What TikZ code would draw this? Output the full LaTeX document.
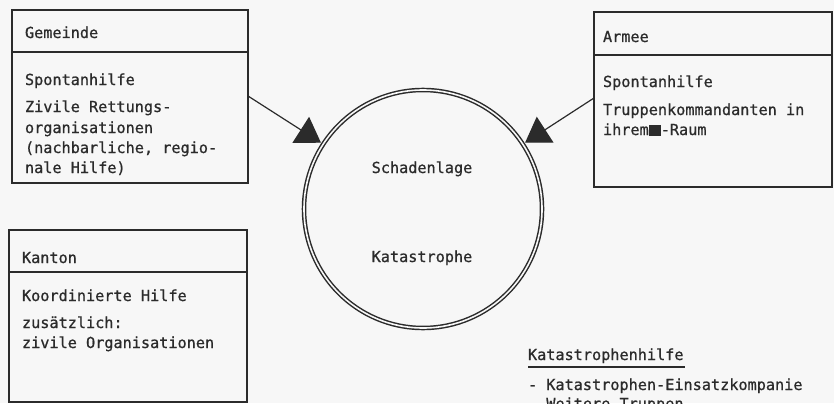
\documentclass[tikz,border=0pt]{standalone}
\usepackage{fontspec}
\setmonofont[FakeBold=0.8]{DejaVu Sans Mono}
\usetikzlibrary{arrows.meta,calc}
\definecolor{ink}{HTML}{2B2B2B}
\definecolor{paper}{HTML}{F7F7F7}
\begin{document}
\begin{tikzpicture}[x=0.75pt,y=-0.75pt,
  txt/.style={inner sep=0pt, outer sep=0pt, text=ink, anchor=base west,
    font=\ttfamily\fontsize{11.4pt}{15pt}\selectfont},
  ctxt/.style={txt, anchor=base},
  box/.style={draw=ink, line width=1.5pt, anchor=north west, inner sep=0pt, outer sep=0pt},
  sepline/.style={draw=ink, line width=1.5pt},
  conn/.style={draw=ink, line width=0.9pt, -{Triangle[length=18pt,width=23pt]}},
  ring/.style={circle, draw=ink, line width=1.1pt, double=paper, double distance=1.2pt,
    inner sep=0pt, outer sep=2pt, minimum size=238*0.75pt}
]
\fill[paper] (0,0) rectangle (834,403);
\useasboundingbox (0,0) rectangle (834,403);

% boxes
\node[box, minimum width=236*0.75pt, minimum height=173*0.75pt] (gem) at (12,10) {};
\node[box, minimum width=238*0.75pt, minimum height=175*0.75pt] (arm) at (594,12) {};
\node[box, minimum width=238*0.75pt, minimum height=172*0.75pt] (kan) at (9,230) {};
\draw[sepline] ($(gem.north west)+(0,42)$) -- ($(gem.north east)+(0,42)$);
\draw[sepline] ($(arm.north west)+(0,43)$) -- ($(arm.north east)+(0,43)$);
\draw[sepline] ($(kan.north west)+(0,42)$) -- ($(kan.north east)+(0,42)$);

% Gemeinde
\node[txt] (gemT) at (25,38) {Gemeinde};
\node[txt] (gem1) at (25,85) {Spontanhilfe};
\node[txt] (gem2) at (25,112) {Zivile Rettungs-};
\node[txt] (gem3) at (25,133) {organisationen};
\node[txt] (gem4) at (25,153) {(nachbarliche, regio-};
\node[txt] (gem5) at (25,173) {nale Hilfe)};

% Armee
\node[txt] (armT) at (603,42) {Armee};
\node[txt] (arm1) at (603,87) {Spontanhilfe};
\node[txt] (arm2) at (603,115) {Truppenkommandanten in};
\node[txt] (arm3) at (603,135) {ihrem\textcolor{ink}{\rule[-0.75pt]{9pt}{8.5pt}}-Raum};

% Kanton
\node[txt] (kanT) at (22,263) {Kanton};
\node[txt] (kan1) at (22,301) {Koordinierte Hilfe};
\node[txt] (kan2) at (22,328) {zusätzlich:};
\node[txt] (kan3) at (22,348) {zivile Organisationen};

% circle
\node[ring] (sch) at (423,209) {};
\node[ctxt] (schT) at (422,173) {Schadenlage};
\node[ctxt] (katT) at (422,262) {Katastrophe};

% arrows
\draw[conn] ($(gem.north east)+(0,86)$) -- (sch.147.6);
\draw[conn] ($(arm.north west)+(0,86)$) -- (sch.33);

% Katastrophenhilfe
\node[txt] (kh) at (528,360) {Katastrophenhilfe};
\draw[draw=ink, line width=1pt] ($(kh.base west)+(0,7)$) -- ($(kh.base east)+(1,7)$);
\node[txt] (kh1) at (528,390) {- Katastrophen-Einsatzkompanie};
\node[txt] (kh2) at (528,409) {- Weitere Truppen};
\end{tikzpicture}
\end{document}
